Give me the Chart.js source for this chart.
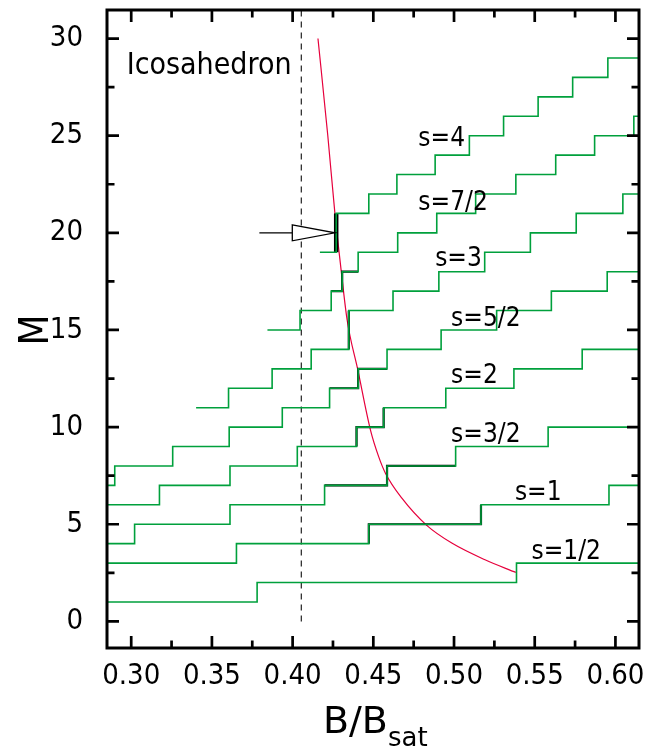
<!DOCTYPE html>
<html lang="en">
<head>
<meta charset="UTF-8">
<title>Icosahedron - M vs B/Bsat</title>
<script src="https://cdn.jsdelivr.net/npm/chart.js"></script>
<style>
  html, body { margin: 0; padding: 0; background: #fff; }
  #wrap { width: 662px; height: 749px; }
</style>
</head>
<body>
<div id="wrap"><canvas id="chart" width="662" height="749"></canvas></div>
<script>
// axis ranges and ticks
const xMin = 0.285, xMax = 0.6146, yMin = -1.37, yMax = 31.47;
const xTicks = [0.30, 0.35, 0.40, 0.45, 0.50, 0.55, 0.60];
const xMinorTicks = [0.325, 0.375, 0.425, 0.475, 0.525, 0.575];
const yTicks = [0, 5, 10, 15, 20, 25, 30];
const yMinorTicks = [2.5, 7.5, 12.5, 17.5, 22.5, 27.5];

// magnetization staircases: plateau values M and the fields where M jumps
const spinNames = ['1/2', '1', '3/2', '2', '5/2', '3', '7/2', '4'];
const levelsS05 = [1, 2, 3];
const jumpsS05 = [0.378, 0.5387];
const levelsS10 = [3, 4, 5, 6, 7];
const jumpsS10 = [0.3652, 0.4472, 0.5167, 0.596];
const levelsS15 = [4, 5, 6, 7, 8, 9, 10];
const jumpsS15 = [0.3021, 0.3612, 0.4198, 0.4585, 0.501, 0.5583];
const levelsS20 = [6, 7, 8, 9, 10, 11, 12, 13, 14];
const jumpsS20 = [0.3175, 0.3612, 0.4029, 0.4396, 0.4564, 0.4949, 0.5371, 0.5794];
const levelsS25 = [7, 8, 9, 10, 11, 12, 13, 14, 15, 16, 17, 18];
const jumpsS25 = [0.2898, 0.3257, 0.3607, 0.3936, 0.4229, 0.4406, 0.4585, 0.492, 0.5264, 0.5603, 0.5949];
const levelsS30 = [11, 12, 13, 14, 16, 17, 18, 19, 20, 21, 22];
const jumpsS30 = [0.3603, 0.3873, 0.4115, 0.4348, 0.4622, 0.4906, 0.519, 0.5473, 0.5757, 0.6046];
const levelsS35 = [15, 16, 17, 18, 19, 20, 21, 22, 23, 24, 25, 26];
const jumpsS35 = [0.4046, 0.4239, 0.4307, 0.4406, 0.4651, 0.4893, 0.5134, 0.5383, 0.563, 0.5871, 0.6114];
const levelsS40 = [19, 21, 22, 23, 24, 25, 26, 27, 28, 29];
const jumpsS40 = [0.427, 0.4472, 0.4646, 0.4883, 0.5095, 0.5307, 0.5521, 0.5735, 0.5953];
// where each staircase begins (left edge for the low spins)
const stairStarts = [xMin, xMin, xMin, xMin, xMin, 0.3402, 0.3844, 0.4169];
// part of each staircase drawn black (corner index from..to)
const blackParts = [null, [3, 6], [6, 9], [7, 10], [10, 13], [7, 8], [4, 7], [1, 2]];

// red curve (saturation estimate)
const curveB = [0.4157, 0.4218, 0.4262, 0.4297, 0.4338, 0.4404, 0.4482, 0.4533, 0.4575, 0.4677, 0.4831, 0.4986, 0.5192, 0.5383];
const curveM = [30.0, 25.0, 21.0, 18.34, 15.5, 12.94, 9.86, 8.48, 7.63, 6.34, 4.94, 4.03, 3.17, 2.52];

const dashedB = 0.4054;
const arrowM = 20, arrowFrom = 0.3794, arrowBase = 0.3998, arrowTip = 0.4262;

const GREEN = '#00a03c';
const RED = '#e6003c';
const FONT = '"DejaVu Sans Condensed", "DejaVu Sans", sans-serif';

const allLevels = [levelsS05, levelsS10, levelsS15, levelsS20, levelsS25, levelsS30, levelsS35, levelsS40];
const allJumps = [jumpsS05, jumpsS10, jumpsS15, jumpsS20, jumpsS25, jumpsS30, jumpsS35, jumpsS40];

function corners(start, jumps, levels) {
  const pts = [{x: start, y: levels[0]}];
  jumps.forEach((b, i) => {
    pts.push({x: b, y: levels[i]});
    pts.push({x: b, y: levels[i + 1]});
  });
  pts.push({x: xMax, y: levels[levels.length - 1]});
  return pts;
}

const datasets = [];
const stairs = allLevels.map((lv, i) => corners(stairStarts[i], allJumps[i], lv));
stairs.forEach((pts, i) => {
  datasets.push({ label: 's=' + spinNames[i], data: pts, borderColor: GREEN, borderWidth: 1.6,
                  pointRadius: 0, tension: 0 });
});
stairs.forEach((pts, i) => {
  const r = blackParts[i];
  if (!r) return;
  datasets.push({ label: 'ground ' + spinNames[i], data: pts.slice(r[0], r[1] + 1), borderColor: '#000',
                  borderWidth: i === 7 ? 4.5 : 2.2, pointRadius: 0, tension: 0 });
});
datasets.push({ label: 'dashed', data: [{x: dashedB, y: 0}, {x: dashedB, y: yMax}], borderColor: '#333',
                borderWidth: 1.3, borderDash: [6, 5], pointRadius: 0 });
datasets.push({ label: 'curve', data: curveB.map((b, i) => ({x: b, y: curveM[i]})), borderColor: RED,
                borderWidth: 1.2, pointRadius: 0, cubicInterpolationMode: 'monotone' });

// s labels: left edge B and baseline M
const spinLabelPos = [[0.548, 3.22], [0.5377, 6.26], [0.4982, 9.22], [0.4982, 12.27],
                      [0.4982, 15.2], [0.4883, 18.29], [0.4779, 21.2], [0.4779, 24.48]];

const decor = {
  id: 'decor',
  afterDraw(chart) {
    const {ctx, chartArea: a, scales: {x, y}} = chart;
    ctx.save();
    ctx.strokeStyle = '#000';
    ctx.lineWidth = 2.7;
    // inward ticks on all four sides
    const tick = (vals, len, horiz) => {
      vals.forEach(v => {
        ctx.beginPath();
        if (horiz) {
          const px = x.getPixelForValue(v);
          ctx.moveTo(px, a.bottom); ctx.lineTo(px, a.bottom - len);
          ctx.moveTo(px, a.top); ctx.lineTo(px, a.top + len);
        } else {
          const py = y.getPixelForValue(v);
          ctx.moveTo(a.left, py); ctx.lineTo(a.left + len, py);
          ctx.moveTo(a.right, py); ctx.lineTo(a.right - len, py);
        }
        ctx.stroke();
      });
    };
    tick(xTicks, 12, true); tick(xMinorTicks, 7.5, true);
    tick(yTicks, 12, false); tick(yMinorTicks, 7.5, false);
    ctx.lineWidth = 3;
    ctx.strokeRect(a.left, a.top, a.right - a.left, a.bottom - a.top);

    // arrow
    const ay = y.getPixelForValue(arrowM);
    const x0 = x.getPixelForValue(arrowFrom), xb = x.getPixelForValue(arrowBase), xt = x.getPixelForValue(arrowTip);
    ctx.lineWidth = 1.3;
    ctx.beginPath(); ctx.moveTo(x0, ay); ctx.lineTo(xb, ay); ctx.stroke();
    ctx.beginPath(); ctx.moveTo(xb, ay - 8); ctx.lineTo(xt, ay); ctx.lineTo(xb, ay + 8); ctx.closePath();
    ctx.fillStyle = '#fff'; ctx.fill(); ctx.stroke();

    // texts
    ctx.fillStyle = '#000';
    ctx.textBaseline = 'alphabetic';
    ctx.textAlign = 'left';
    ctx.font = '30px ' + FONT;
    ctx.fillText('Icosahedron', x.getPixelForValue(0.2972), y.getPixelForValue(28.2));
    ctx.font = '26px ' + FONT;
    spinLabelPos.forEach((p, i) => {
      ctx.fillText('s=' + spinNames[i], x.getPixelForValue(p[0]), y.getPixelForValue(p[1]));
    });

    // axis titles
    ctx.font = '38px "DejaVu Sans", sans-serif';
    ctx.fillText('B/B', 323, 733);
    const w = ctx.measureText('B/B').width;
    ctx.font = '26px "DejaVu Sans", sans-serif';
    ctx.fillText('sat', 323 + w, 746);
    ctx.translate(48, 330);
    ctx.rotate(-Math.PI / 2);
    ctx.textAlign = 'center';
    ctx.font = '40px ' + FONT;
    ctx.fillText('M', 0, 0);
    ctx.restore();
  }
};

new Chart(document.getElementById('chart'), {
  type: 'line',
  data: { datasets },
  plugins: [decor],
  options: {
    responsive: false,
    animation: false,
    devicePixelRatio: 1,
    layout: { padding: { top: 10, right: 23, left: 0, bottom: 0 } },
    plugins: { legend: { display: false }, tooltip: { enabled: false } },
    scales: {
      x: {
        type: 'linear', min: xMin, max: xMax,
        afterBuildTicks: s => { s.ticks = xTicks.map(v => ({value: v})); },
        afterFit: s => { s.height = 101; s.paddingLeft = 0; s.paddingRight = 0; },
        grid: { display: false }, border: { display: false },
        ticks: { color: '#000', font: { family: FONT, size: 29 }, padding: 3, maxRotation: 0,
                 autoSkip: false, callback: v => v.toFixed(2) }
      },
      y: {
        type: 'linear', min: yMin, max: yMax,
        afterBuildTicks: s => { s.ticks = yTicks.map(v => ({value: v})); },
        afterFit: s => { s.width = 107; s.paddingTop = 0; s.paddingBottom = 0; },
        grid: { display: false }, border: { display: false },
        ticks: { color: '#000', font: { family: FONT, size: 29 }, padding: 16,
                 autoSkip: false, callback: v => String(v) }
      }
    }
  }
});
</script>
</body>
</html>
